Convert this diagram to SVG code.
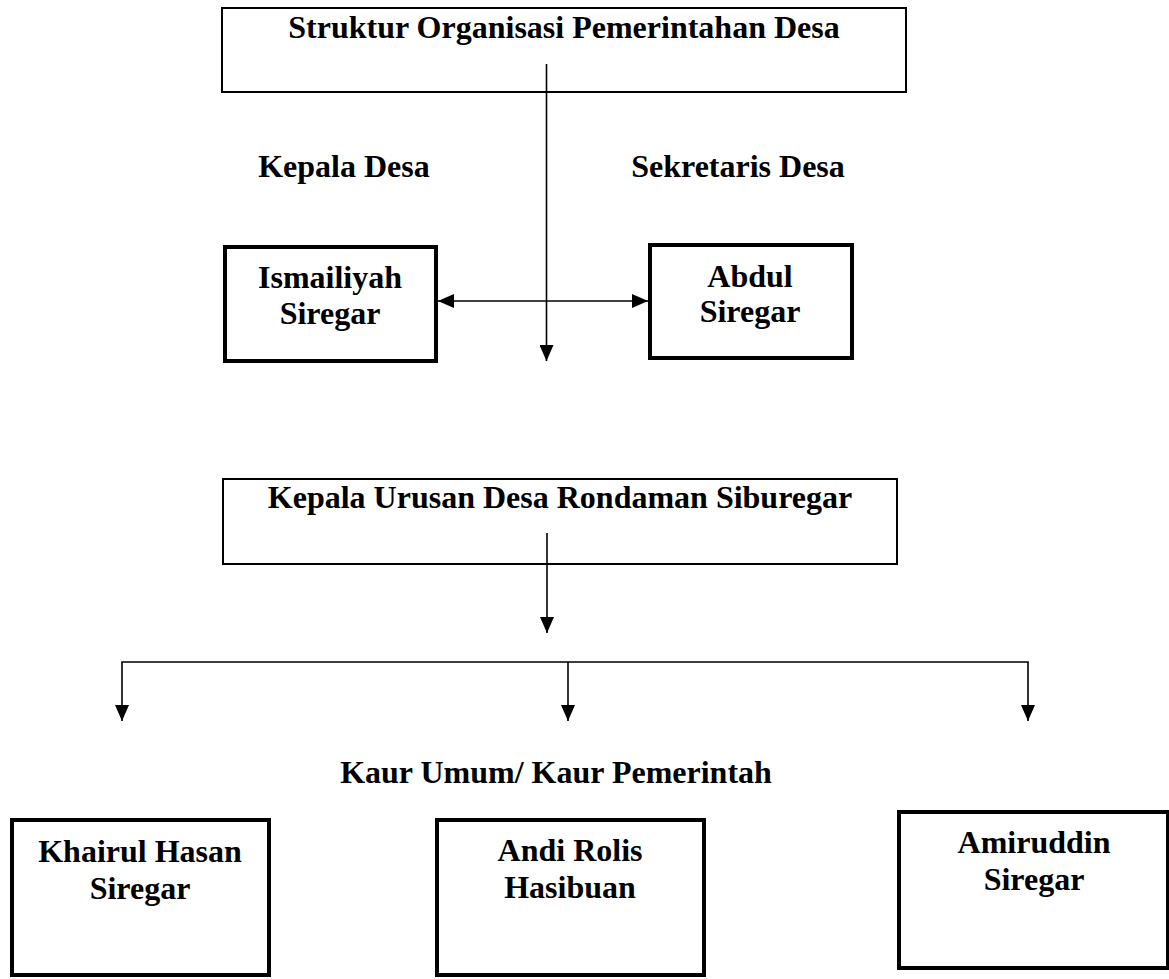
<svg xmlns="http://www.w3.org/2000/svg" width="1169" height="979" viewBox="0 0 1169 979">
<style>
  text { font-family: "Liberation Serif", "Times New Roman", serif; font-weight: bold; font-size: 32px; fill: #000; text-anchor: middle; }
  .thin { fill: #fff; stroke: #000; stroke-width: 2; }
  .thick { fill: #fff; stroke: #000; stroke-width: 4; }
  .conn { fill: none; stroke: #000; stroke-width: 1.6; }
</style>
<defs>
  <marker id="ah" viewBox="0 0 16 14" refX="16" refY="7" markerWidth="16" markerHeight="14" orient="auto-start-reverse" markerUnits="userSpaceOnUse">
    <path d="M0,0 L16,7 L0,14 z" fill="#000"/>
  </marker>
</defs>
<rect width="1169" height="979" fill="#fff"/>

<g id="title-box">
  <rect class="thin" x="222" y="8" width="684" height="84"/>
  <text x="564" y="38">Struktur Organisasi Pemerintahan Desa</text>
</g>

<g id="label-kepala">
  <text x="344" y="177">Kepala Desa</text>
</g>
<g id="label-sekretaris">
  <text x="738" y="177">Sekretaris Desa</text>
</g>

<g id="ismailiyah">
  <rect class="thick" x="225" y="247" width="211" height="114"/>
  <text x="330" y="288">Ismailiyah</text>
  <text x="330" y="324">Siregar</text>
</g>

<g id="abdul">
  <rect class="thick" x="650" y="245" width="202" height="113"/>
  <text x="750" y="287">Abdul</text>
  <text x="750" y="322">Siregar</text>
</g>

<g id="kaur-box">
  <rect class="thin" x="223" y="479" width="674" height="85"/>
  <text x="560" y="508">Kepala Urusan Desa Rondaman Siburegar</text>
</g>

<g id="label-kaur">
  <text x="556" y="783">Kaur Umum/ Kaur Pemerintah</text>
</g>

<g id="khairul">
  <rect class="thick" x="12" y="820" width="257" height="155"/>
  <text x="140" y="862">Khairul Hasan</text>
  <text x="140" y="899">Siregar</text>
</g>

<g id="andi">
  <rect class="thick" x="437" y="820" width="267" height="155"/>
  <text x="570" y="861">Andi Rolis</text>
  <text x="570" y="898">Hasibuan</text>
</g>

<g id="amiruddin">
  <rect class="thick" x="899" y="812" width="269" height="156"/>
  <text x="1034" y="853">Amiruddin</text>
  <text x="1034" y="890">Siregar</text>
</g>

<g id="connectors">
  <line class="conn" x1="546.5" y1="64" x2="546.5" y2="361" marker-end="url(#ah)"/>
  <line class="conn" x1="438" y1="301" x2="648" y2="301" marker-start="url(#ah)" marker-end="url(#ah)"/>
  <line class="conn" x1="547" y1="533" x2="547" y2="633" marker-end="url(#ah)"/>
  <polyline class="conn" points="122,721 122,662 1028,662 1028,721" marker-start="url(#ah)" marker-end="url(#ah)"/>
  <line class="conn" x1="568" y1="662" x2="568" y2="721" marker-end="url(#ah)"/>
</g>
</svg>
